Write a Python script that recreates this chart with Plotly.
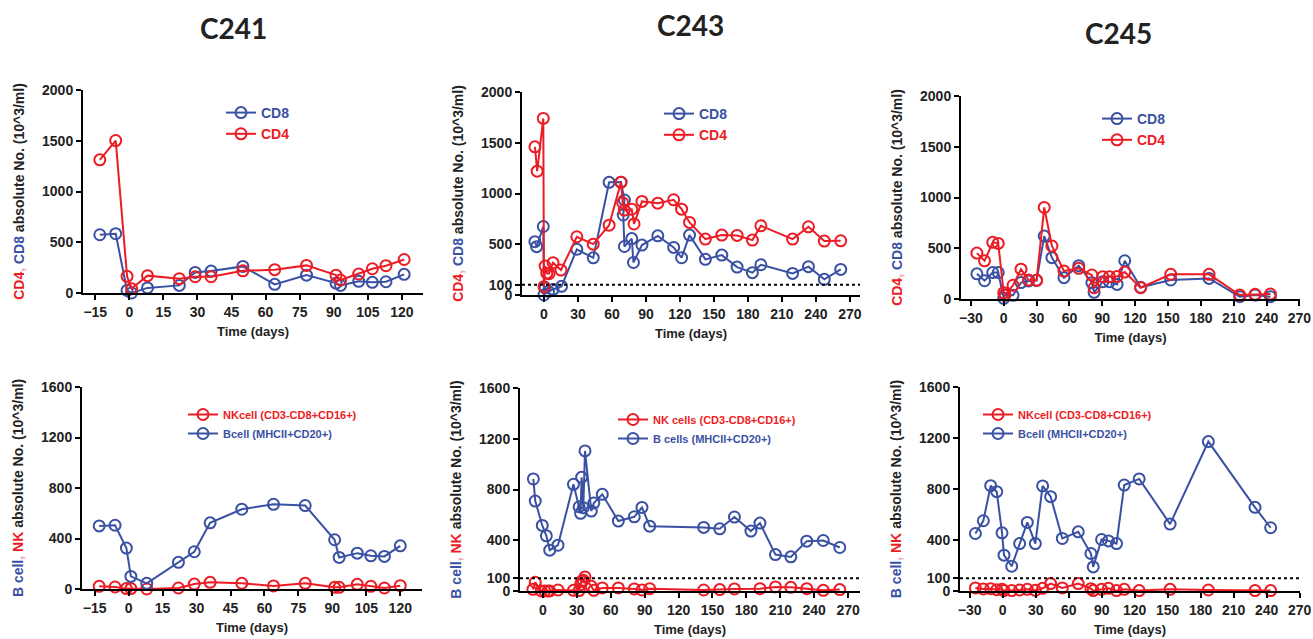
import plotly.graph_objects as go

# ---------------- data ----------------
# C241 (top): CD8 / CD4
days_241 = [-13, -6, -1, 1, 8, 22, 29, 36, 50, 64, 78, 91, 93, 101, 107, 113, 121]
cd8_241 = [574, 584, 25, 0, 50, 75, 203, 216, 262, 85, 176, 97, 75, 115, 105, 111, 184]
cd4_241 = [1312, 1502, 164, 43, 171, 141, 160, 160, 218, 230, 272, 176, 128, 187, 239, 269, 330]

# C243 (top)
days_243_cd8 = [-8, -6.5, -0.6, 0, 1, 4, 8, 15.5, 29, 43.5, 57.5, 68, 71, 70, 71, 77.5, 79,
                86.5, 100.5, 114.5, 121.5, 128.5, 142.5, 157, 170.5, 184, 191.5, 219.5, 233.5, 247.5, 262]
cd8_243 = [525, 476, 675, 0, 70, 35, 55, 85, 450, 366, 1110, 1112, 936, 788, 478, 556, 320,
           492, 583, 469, 367, 590, 351, 393, 275, 220, 298, 213, 279, 154, 252]
days_243_cd4 = [-8, -6, -0.6, 0, 1, 2.5, 4.5, 8, 15, 29, 43.5, 57.5, 68, 69.5, 71, 77.5, 79.5,
                86.5, 100.5, 114.5, 121.5, 128.5, 142.5, 157, 170.5, 184, 191.5, 219.5, 233.5, 247.5, 262]
cd4_243 = [1460, 1220, 1740, 82, 285, 215, 210, 318, 246, 574, 501, 688, 1112, 909, 837, 845, 700,
           922, 905, 938, 846, 715, 551, 590, 587, 541, 682, 551, 672, 531, 534]

# C245 (top)
days_245 = [-24.5, -17.5, -10, -5, 0, 1, 8.5, 15.8, 22.8, 30, 37, 44, 55, 68.5, 80.5, 82.5,
            90.5, 96.5, 103.5, 110.5, 125, 152.5, 187.5, 215.5, 229.5, 243.5]
cd8_245 = [248, 180, 261, 261, 7, 39, 36, 162, 178, 184, 620, 407, 210, 328, 161, 66,
           171, 171, 144, 377, 115, 187, 203, 23, 39, 23]
cd4_245 = [452, 376, 558, 548, 62, 39, 135, 294, 187, 184, 902, 522, 275, 302, 236, 111,
           220, 220, 222, 265, 111, 243, 243, 39, 46, 49]

# C241 (bottom): NK / B cells
days_241b = [-13, -6, -1, 1, 8, 22, 29, 36, 50, 64, 78, 91, 93, 101, 107, 113, 120]
nk_241 = [21, 16, 3, 3, 0, 8, 39, 53, 45, 24, 45, 13, 13, 37, 21, 8, 26]
b_241 = [500, 505, 324, 100, 45, 211, 295, 524, 632, 671, 661, 390, 250, 284, 263, 258, 342]

# C243 (bottom)
days_243_nk = [-8.9, -6.8, -1.5, 1.5, 4.4, 6, 13.3, 27, 32, 33.3, 34.2, 35.7, 37.2, 42.8, 45,
               52.5, 66.7, 80.8, 87.6, 94.4, 142.2, 156.4, 169.4, 192, 205.7, 219.3, 233.4, 248, 262.6]
nk_243 = [13, 69, 0, 0, 0, 0, 8, 5, 3, 50, 76, 84, 111, 37, 5,
          24, 24, 16, 8, 18, 8, 11, 16, 18, 32, 29, 18, 5, 11]
days_243_b = [-8.5, -6.8, -0.6, 3, 6, 13.3, 27, 32, 33.3, 34.2, 35.7, 37.2, 42.8, 45, 52.5,
              66.7, 80.8, 87.6, 94.4, 142.2, 156.4, 169.4, 184, 192, 205.7, 219.3, 233.4, 248, 262.6]
b_243 = [883, 709, 517, 435, 322, 361, 841, 664, 612, 896, 656, 1104, 630, 693, 762,
         551, 585, 659, 511, 501, 490, 583, 472, 535, 287, 269, 393, 398, 343]

# C245 (bottom)
days_245b = [-24.8, -17.6, -10.9, -5.4, -0.6, 1.2, 8.2, 15.4, 22.4, 29.7, 36.3, 43.6, 54.2,
             68.7, 80.2, 82.3, 89.9, 96.2, 103.5, 110.5, 124.1, 152.2, 187, 229.4, 243.6]
nk_245 = [24, 16, 18, 10, 13, 3, 3, 8, 13, 5, 21, 58, 24, 58, 18, 3, 13, 21, 3, 13, 3, 13, 8, 3, 3]
b_245 = [451, 551, 826, 779, 456, 281, 194, 372, 538, 372, 824, 740, 412, 464, 294, 189,
         404, 393, 372, 831, 879, 525, 1172, 656, 496]

titles = ["C241", "C243", "C245"]
xticks_241 = [-15, 0, 15, 30, 45, 60, 75, 90, 105, 120]
xticks_243 = [0, 30, 60, 90, 120, 150, 180, 210, 240, 270]
xticks_245 = [-30, 0, 30, 60, 90, 120, 150, 180, 210, 240, 270]
yticks_top = [0, 500, 1000, 1500, 2000]
yticks_top_ref = [0, 100, 500, 1000, 1500, 2000]
yticks_bot = [0, 400, 800, 1200, 1600]
yticks_bot_ref = [0, 100, 400, 800, 1200, 1600]
ref_level = 100

# ---------------- styling ----------------
W, H = 1313, 639
RED = "#ec1c24"
BLUE = "#3a51a3"
PINK = "#f4a3aa"
FONT = "Liberation Sans"

def fx(px):
    return px / W

def fy(py):
    return 1 - py / H

def span(t, c):
    return f"<span style='color:{c}'>{t}</span>"

ytitle_top = span("CD4", RED) + span(",", PINK) + " " + span("CD8", BLUE) + " absolute No. (10^3/ml)"
ytitle_bot = span("B cell", BLUE) + span(",", PINK) + " " + span("NK", RED) + " absolute No. (10^3/ml)"

# panel boxes in window pixels: (left, right, top, bottom)
boxes = [(83, 423, 90, 293), (522, 860, 92, 295), (961, 1300, 96, 299),
         (82, 422, 387, 589), (520, 860, 388, 591), (960, 1300, 387, 591)]
xranges = [[-20.4, 129.3], [-19.4, 279], [-39, 270.5],
           [-20.6, 129.6], [-20.3, 280.5], [-38.8, 270.3]]
xtickvals = [xticks_241, xticks_243, xticks_245, xticks_241, xticks_243, xticks_245]
ytickvals = [yticks_top, yticks_top_ref, yticks_top, yticks_bot, yticks_bot_ref, yticks_bot_ref]
yranges = [[0, 2000]] * 3 + [[0, 1600]] * 3

fig = go.Figure()

marker_common = dict(symbol="circle-open", size=11, line=dict(width=2))

def add_pair(n, x1, y1, name1, c1, x2, y2, name2, c2):
    suffix = "" if n == 1 else str(n)
    leg = "legend" if n == 1 else f"legend{n}"
    for xs, ys, nm, c in ((x1, y1, name1, c1), (x2, y2, name2, c2)):
        fig.add_trace(go.Scatter(
            x=xs, y=ys, mode="lines+markers", name=span(nm, c),
            line=dict(color=c, width=2),
            marker=dict(color=c, **marker_common),
            cliponaxis=False,
            xaxis="x" + suffix, yaxis="y" + suffix, legend=leg))

add_pair(1, days_241, cd8_241, "CD8", BLUE, days_241, cd4_241, "CD4", RED)
add_pair(2, days_243_cd8, cd8_243, "CD8", BLUE, days_243_cd4, cd4_243, "CD4", RED)
add_pair(3, days_245, cd8_245, "CD8", BLUE, days_245, cd4_245, "CD4", RED)
add_pair(4, days_241b, nk_241, "NKcell (CD3-CD8+CD16+)", RED, days_241b, b_241, "Bcell (MHCII+CD20+)", BLUE)
add_pair(5, days_243_nk, nk_243, "NK cells (CD3-CD8+CD16+)", RED, days_243_b, b_243, "B cells (MHCII+CD20+)", BLUE)
add_pair(6, days_245b, nk_245, "NKcell (CD3-CD8+CD16+)", RED, days_245b, b_245, "Bcell (MHCII+CD20+)", BLUE)

layout = dict(
    width=W, height=H, autosize=False,
    margin=dict(l=0, r=0, t=0, b=0, pad=0, autoexpand=False),
    paper_bgcolor="white", plot_bgcolor="white",
    font=dict(family=FONT, size=13, color="#222222", weight="bold"),
    showlegend=True,
)

for i, (l, r, t, b) in enumerate(boxes):
    n = i + 1
    suffix = "" if n == 1 else str(n)
    tick_font = dict(family=FONT, size=14, color="#222222", weight="bold")
    layout["xaxis" + suffix] = dict(
        domain=[fx(l), fx(r)], anchor="y" + suffix, range=xranges[i],
        tickmode="array", tickvals=xtickvals[i], automargin=False,
        showline=True, linecolor="black", linewidth=2,
        ticks="outside", ticklen=5, tickwidth=2, tickcolor="black",
        showgrid=False, zeroline=False, tickfont=tick_font,
        title=dict(text="Time (days)", font=dict(family=FONT, size=13, color="#222222", weight="bold"),
                   standoff=8),
    )
    layout["yaxis" + suffix] = dict(
        domain=[fy(b), fy(t)], anchor="x" + suffix, range=yranges[i],
        tickmode="array", tickvals=ytickvals[i], automargin=False,
        showline=True, linecolor="black", linewidth=2,
        ticks="outside", ticklen=5, tickwidth=2, tickcolor="black",
        showgrid=False, zeroline=False, tickfont=tick_font,
        title=dict(text=ytitle_top if n <= 3 else ytitle_bot,
                   font=dict(family=FONT, size=14, color="#222222", weight="bold"),
                   standoff=14),
    )

# legends (x = left px, y = top px, font size) in window pixels
leg_pos = [(221, 97, 14), (659, 98, 14), (1097, 103, 14),
           (183, 400, 11), (613, 405, 11), (978, 400, 11)]
for i, (lx, ly, fs) in enumerate(leg_pos):
    key = "legend" if i == 0 else f"legend{i + 1}"
    layout[key] = dict(x=fx(lx), y=fy(ly), xanchor="left", yanchor="top",
                       bgcolor="rgba(0,0,0,0)", borderwidth=0,
                       font=dict(family=FONT, size=fs, weight="bold"),
                       itemwidth=30, tracegroupgap=0)

fig.update_layout(**layout)

# dotted reference line at 100 on panels 2, 5, 6
for n in (2, 5, 6):
    fig.add_shape(type="line", xref=f"x{n} domain", yref=f"y{n}", x0=0, x1=1,
                  y0=ref_level, y1=ref_level,
                  line=dict(color="black", width=2, dash="dot"))

# panel titles
title_pos = [(233, 28), (690, 25), (1118, 33)]
for t, (px, py) in zip(titles, title_pos):
    fig.add_annotation(x=fx(px), y=fy(py), xref="paper", yref="paper", text=t,
                       showarrow=False, xanchor="center", yanchor="middle",
                       font=dict(family="Lato", size=28, color="#222222", weight="bold"))

# place the figure at the window's top-left corner (no default page margin), no toolbar
fig.write_html("out.html",
               config={"displayModeBar": False},
               post_script="document.body.style.margin='0';document.body.style.overflow='hidden';")
